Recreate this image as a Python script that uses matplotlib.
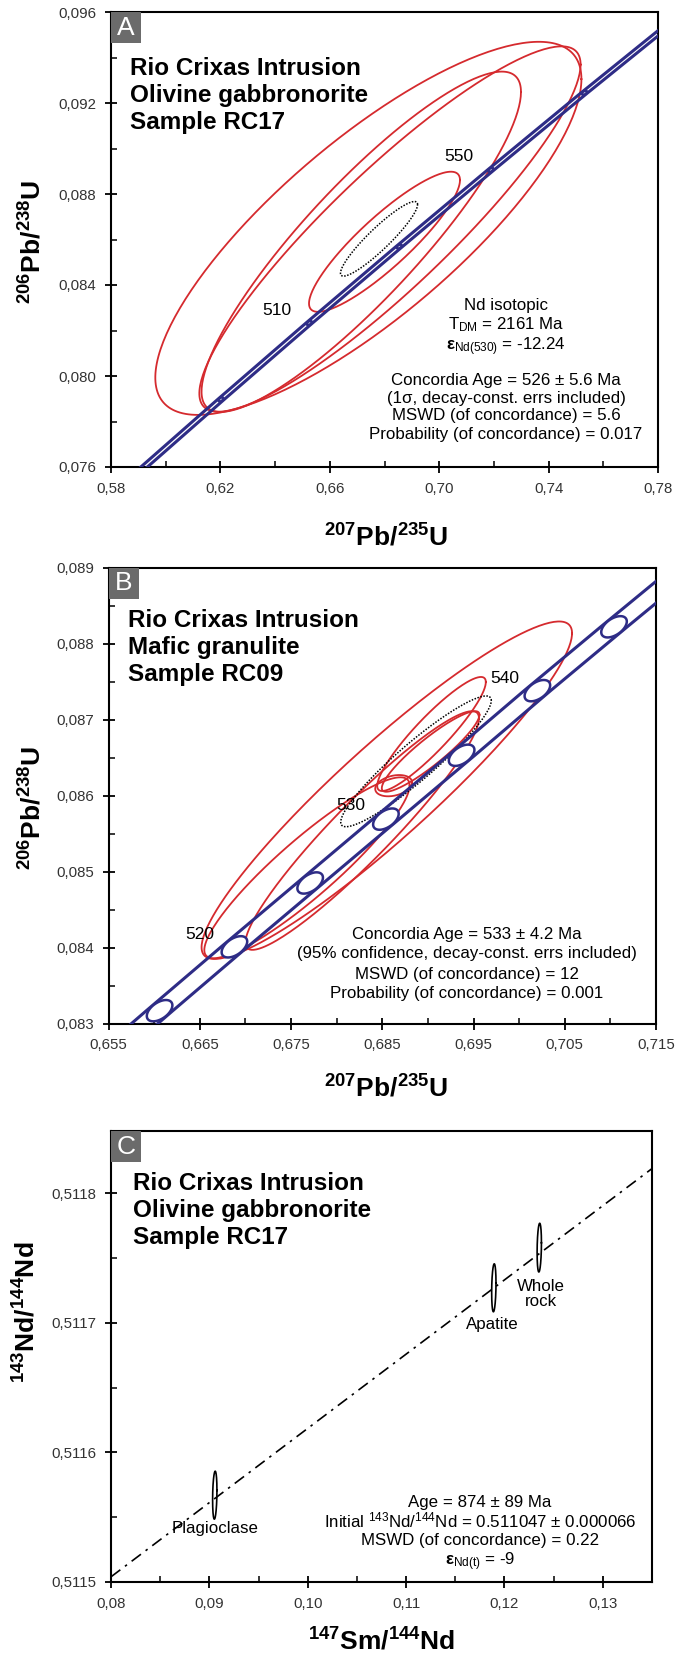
import numpy as np
import matplotlib.pyplot as plt
from matplotlib.ticker import FixedLocator, FuncFormatter
from matplotlib.patches import Rectangle

plt.rcParams['font.family'] = ['Liberation Sans', 'DejaVu Sans']
plt.rcParams['mathtext.fontset'] = 'custom'
plt.rcParams['mathtext.rm'] = 'Liberation Sans'
plt.rcParams['mathtext.it'] = 'Liberation Sans:italic'
plt.rcParams['mathtext.bf'] = 'Liberation Sans:bold'

RED = '#d52a2e'
BLUE = '#2e2c86'

# ---- panel A : U-Pb concordia, olivine gabbronorite RC17 ----
conc_a_age = [470, 490, 510, 530, 550, 570, 590]
conc_a_x = [0.5886, 0.6202, 0.6525, 0.6854, 0.7189, 0.7531, 0.7880]
conc_a_y = [0.07563, 0.07897, 0.08233, 0.08569, 0.08906, 0.09245, 0.09584]
conc_a_band = 0.0012
conc_a_marks = [490, 510, 530, 550, 570]
conc_a_lab_age = ['510', '550']
conc_a_lab_x = [0.6405, 0.7072]
conc_a_lab_y = [0.08286, 0.08963]
a_xticks = [0.58, 0.62, 0.66, 0.70, 0.74, 0.78]
a_yticks = [0.076, 0.080, 0.084, 0.088, 0.092, 0.096]

ell_a_x = [0.6741, 0.6820, 0.6715, 0.6800]
ell_a_y = [0.08649, 0.08646, 0.08590, 0.08590]
ell_a_sx = [0.0779, 0.0697, 0.0584, 0.0276]
ell_a_sy = [0.00820, 0.00803, 0.00748, 0.00308]
ell_a_rho = [0.80, 0.90, 0.88, 0.88]
age_a = [0.6780, 0.08603, 0.0141, 0.00164, 0.92]

# ---- panel B : U-Pb concordia, mafic granulite RC09 ----
conc_b_age = [505, 510, 515, 520, 525, 530, 535, 540, 545, 550, 555]
conc_b_x = [0.6444, 0.6525, 0.6606, 0.6688, 0.6771, 0.6854, 0.6937, 0.7020, 0.7104, 0.7189, 0.7274]
conc_b_y = [0.08149, 0.08233, 0.08317, 0.08401, 0.08485, 0.08569, 0.08653, 0.08738, 0.08822, 0.08906, 0.08991]
conc_b_band = 0.00145
conc_b_marks = [515, 520, 525, 530, 535, 540, 545]
conc_b_lab_age = ['520', '530', '540']
conc_b_lab_x = [0.6650, 0.6816, 0.6984]
conc_b_lab_y = [0.08417, 0.08587, 0.08754]
b_xticks = [0.655, 0.665, 0.675, 0.685, 0.695, 0.705, 0.715]
b_yticks = [0.083, 0.084, 0.085, 0.086, 0.087, 0.088, 0.089]

ell_b_x = [0.6855, 0.67675, 0.6828, 0.6904, 0.68625, 0.6903]
ell_b_y = [0.08607, 0.08505, 0.08554, 0.08681, 0.08613, 0.08658]
ell_b_sx = [0.0203, 0.01125, 0.0128, 0.00595, 0.00202, 0.00535]
ell_b_sy = [0.00222, 0.00119, 0.00157, 0.00075, 0.00014, 0.00053]
ell_b_rho = [0.93, 0.91, 0.94, 0.91, 0.30, 0.91]
age_b = [0.6887, 0.08645, 0.00825, 0.00086, 0.93]

# ---- panel C : Sm-Nd isochron RC17 ----
iso_x = [0.080, 0.135]
iso_y = [0.511504, 0.511819]
nd_names = ['Plagioclase', 'Apatite', 'Whole\nrock']
nd_x = [0.09055, 0.11892, 0.12354]
nd_y = [0.511567, 0.511727, 0.511758]
nd_sx = [0.00022, 0.00022, 0.00022]
nd_sy = [0.0000185, 0.0000185, 0.0000188]
nd_lab_x = [0.0906, 0.1188, 0.1237]
nd_lab_y = [0.511541, 0.5116985, 0.511722]
c_xticks = [0.08, 0.09, 0.10, 0.11, 0.12, 0.13]
c_yticks = [0.5115, 0.5116, 0.5117, 0.5118]


def ellipse_xy(cx, cy, sx, sy, rho, n=240):
    t = np.linspace(0, 2 * np.pi, n)
    x = cx + sx * np.cos(t)
    y = cy + sy * (rho * np.cos(t) + np.sqrt(1 - rho ** 2) * np.sin(t))
    return x, y


def comma(nd):
    return FuncFormatter(lambda v, p: f'{v:.{nd}f}'.replace('.', ','))


W, H = 677, 1655
fig = plt.figure(figsize=(W / 100, H / 100), dpi=100)


def make_axes(l, r, t, b):
    return fig.add_axes([l / W, 1 - b / H, (r - l) / W, (b - t) / H])


def style_axes(ax, xt, yt, xd, yd):
    xt = np.array(xt)
    yt = np.array(yt)
    ax.xaxis.set_major_locator(FixedLocator(xt))
    ax.yaxis.set_major_locator(FixedLocator(yt))
    ax.xaxis.set_minor_locator(FixedLocator((xt[:-1] + xt[1:]) / 2))
    ax.yaxis.set_minor_locator(FixedLocator((yt[:-1] + yt[1:]) / 2))
    ax.xaxis.set_major_formatter(comma(xd))
    ax.yaxis.set_major_formatter(comma(yd))
    ax.tick_params(which='major', direction='inout', length=9, width=1.3,
                   labelsize=10.8, labelcolor='#333333', pad=6)
    ax.tick_params(which='minor', direction='in', length=4, width=1.1)
    for s in ax.spines.values():
        s.set_linewidth(1.5)


def panel_box(ax, letter, w=30, h=31):
    bb = ax.get_position()
    fw, fh = w / (bb.width * W), h / (bb.height * H)
    ax.add_patch(Rectangle((0, 1 - fh), fw, fh, transform=ax.transAxes,
                           fc='#6b6b6b', ec='none', zorder=6, clip_on=False))
    ax.text(fw / 2, 1 - fh / 2, letter, transform=ax.transAxes, ha='center',
            va='center', color='white', fontsize=19, zorder=7)


def title_lines(ax, lines, x_px, base_px, l, t, r, b):
    for s, y in zip(lines, base_px):
        ax.text((x_px - l) / (r - l), 1 - (y - t) / (b - t), s, transform=ax.transAxes,
                ha='left', va='baseline', fontsize=17.5, fontweight='bold')


def note_lines(ax, lines, x_px, base_px, l, t, r, b, fs=12.2):
    for s, y in zip(lines, base_px):
        ax.text((x_px - l) / (r - l), 1 - (y - t) / (b - t), s, transform=ax.transAxes,
                ha='center', va='baseline', fontsize=fs)


def draw_concordia(ax, cx, cy, band, ages, marks, msx, msy):
    cx = np.array(cx)
    cy = np.array(cy)
    ax.plot(cx - band, cy, color=BLUE, lw=2.2, zorder=3)
    ax.plot(cx + band, cy, color=BLUE, lw=2.2, zorder=3)
    for a in marks:
        i = ages.index(a)
        ex, ey = ellipse_xy(cx[i], cy[i], msx, msy, 0.5)
        ax.fill(ex, ey, fc='white', ec=BLUE, lw=1.8, zorder=4)


# ================= panel A =================
LA, RA, TA, BA = 111, 658, 12, 467
axA = make_axes(LA, RA, TA, BA)
axA.set_xlim(0.58, 0.78)
axA.set_ylim(0.076, 0.096)
style_axes(axA, a_xticks, a_yticks, 2, 3)
for i in range(len(ell_a_x)):
    ex, ey = ellipse_xy(ell_a_x[i], ell_a_y[i], ell_a_sx[i], ell_a_sy[i], ell_a_rho[i])
    axA.plot(ex, ey, color=RED, lw=1.3, zorder=2)
ex, ey = ellipse_xy(*age_a)
axA.plot(ex, ey, color='black', lw=1.1, ls=(0, (1, 1)), zorder=2)
draw_concordia(axA, conc_a_x, conc_a_y, conc_a_band, conc_a_age, conc_a_marks, 0.0009, 0.00009)
for s, x, y in zip(conc_a_lab_age, conc_a_lab_x, conc_a_lab_y):
    axA.text(x, y, s, ha='center', va='center', fontsize=12.5)
panel_box(axA, 'A')
title_lines(axA, ['Rio Crixas Intrusion', 'Olivine gabbronorite', 'Sample RC17'],
            130, [75, 102, 128.5], LA, TA, RA, BA)
note_lines(axA, ['Nd isotopic', r'T$_{\mathrm{DM}}$ = 2161 Ma',
                 r'$\mathbf{ε}_{\mathrm{Nd(530)}}$ = -12.24'],
           506, [310, 329, 350], LA, TA, RA, BA)
note_lines(axA, ['Concordia Age = 526 ± 5.6 Ma', '(1σ, decay-const. errs included)',
                 'MSWD (of concordance) = 5.6', 'Probability (of concordance) = 0.017'],
           506, [385.5, 403, 420, 439], LA, TA, RA, BA)

# ================= panel B =================
LB, RB, TB, BB = 108.5, 656, 567.5, 1023.6
axB = make_axes(LB, RB, TB, BB)
axB.set_xlim(0.655, 0.715)
axB.set_ylim(0.083, 0.089)
style_axes(axB, b_xticks, b_yticks, 3, 3)
for i in range(len(ell_b_x)):
    ex, ey = ellipse_xy(ell_b_x[i], ell_b_y[i], ell_b_sx[i], ell_b_sy[i], ell_b_rho[i])
    axB.plot(ex, ey, color=RED, lw=1.3, zorder=2)
ex, ey = ellipse_xy(*age_b)
axB.plot(ex, ey, color='black', lw=1.1, ls=(0, (1, 1)), zorder=2)
draw_concordia(axB, conc_b_x, conc_b_y, conc_b_band, conc_b_age, conc_b_marks, 0.0014, 0.00014)
for s, x, y in zip(conc_b_lab_age, conc_b_lab_x, conc_b_lab_y):
    axB.text(x, y, s, ha='center', va='center', fontsize=12.5, zorder=5)
panel_box(axB, 'B')
title_lines(axB, ['Rio Crixas Intrusion', 'Mafic granulite', 'Sample RC09'],
            128, [627, 654, 681], LB, TB, RB, BB)
note_lines(axB, ['Concordia Age = 533 ± 4.2 Ma', '(95% confidence, decay-const. errs included)',
                 'MSWD (of concordance) = 12', 'Probability (of concordance) = 0.001'],
           466.6, [938.5, 958, 979, 998], LB, TB, RB, BB)

# ================= panel C =================
LC, RC, TC, BC = 111, 652, 1131, 1582
axC = make_axes(LC, RC, TC, BC)
axC.set_xlim(0.08, 0.135)
axC.set_ylim(0.5115, 0.511848)
style_axes(axC, c_xticks, c_yticks, 2, 4)
axC.yaxis.set_minor_locator(FixedLocator([0.51155, 0.51165, 0.51175, 0.51185]))
axC.xaxis.set_minor_locator(FixedLocator([0.085, 0.095, 0.105, 0.115, 0.125, 0.135]))
axC.plot(iso_x, iso_y, color='black', lw=1.2, dashes=(7, 3.5, 1.5, 3.5), zorder=2)
for i in range(len(nd_x)):
    ex, ey = ellipse_xy(nd_x[i], nd_y[i], nd_sx[i], nd_sy[i], 0.2)
    axC.plot(ex, ey, color='black', lw=1.2, zorder=3)
    axC.text(nd_lab_x[i], nd_lab_y[i], nd_names[i], ha='center', va='center',
             fontsize=12.2, linespacing=1.0)
panel_box(axC, 'C')
title_lines(axC, ['Rio Crixas Intrusion', 'Olivine gabbronorite', 'Sample RC17'],
            133, [1190, 1217, 1244], LC, TC, RC, BC)
note_lines(axC, ['Age = 874 ± 89 Ma',
                 r'Initial $^{143}$Nd/$^{144}$Nd = 0.511047 ± 0.000066',
                 'MSWD (of concordance) = 0.22',
                 r'$\mathbf{ε}_{\mathrm{Nd(t)}}$ = -9'],
           480, [1507, 1527, 1545.5, 1565], LC, TC, RC, BC)

# ---- axis titles ----
lab_kw = dict(ha='center', va='center', fontsize=19)
fig.text(386 / W, 1 - 538 / H, r'$\mathbf{^{207}Pb/^{235}U}$', **lab_kw)
fig.text(33 / W, 1 - 242 / H, r'$\mathbf{^{206}Pb/^{238}U}$', rotation=90, **lab_kw)
fig.text(386 / W, 1 - 1089 / H, r'$\mathbf{^{207}Pb/^{235}U}$', **lab_kw)
fig.text(33 / W, 1 - 808 / H, r'$\mathbf{^{206}Pb/^{238}U}$', rotation=90, **lab_kw)
fig.text(382 / W, 1 - 1641 / H, r'$\mathbf{^{147}Sm/^{144}Nd}$', **lab_kw)
fig.text(27 / W, 1 - 1312 / H, r'$\mathbf{^{143}Nd/^{144}Nd}$', rotation=90, **lab_kw)

fig.savefig('out.png', dpi=100)
